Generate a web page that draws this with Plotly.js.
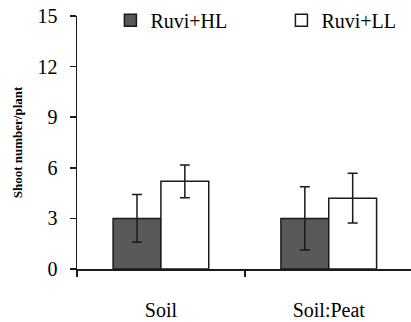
<!DOCTYPE html>
<html>
<head>
<meta charset="utf-8">
<script src="https://cdn.plot.ly/plotly-3.0.1.min.js"></script>
<style>html,body{margin:0;padding:0;background:#fff;}#chart{width:411px;height:322px;}</style>
</head>
<body>
<div id="chart"></div>
<script>
const categories = ["Soil", "Soil:Peat"];
const seriesNames = ["Ruvi+HL", "Ruvi+LL"];
const hlValues = [3.0, 3.0];
const hlErrors = [1.42, 1.87];
const llValues = [5.2, 4.2];
const llErrors = [0.97, 1.47];
const yTicks = [0, 3, 6, 9, 12, 15];

const font = "Times New Roman, Liberation Serif, serif";
const lineCol = "#1a1a1a";

const traces = [
  {
    type: "bar", name: seriesNames[0], x: categories, y: hlValues, legend: "legend",
    marker: {color: "#595959", line: {color: lineCol, width: 1.5}},
    error_y: {type: "data", array: hlErrors, visible: true, color: lineCol, thickness: 1.5, width: 5}
  },
  {
    type: "bar", name: seriesNames[1], x: categories, y: llValues, legend: "legend2",
    marker: {color: "#ffffff", line: {color: lineCol, width: 1.5}},
    error_y: {type: "data", array: llErrors, visible: true, color: lineCol, thickness: 1.5, width: 5}
  }
];

const legendBase = {
  orientation: "h", xanchor: "left", y: 1.06, yanchor: "top",
  font: {family: font, size: 20, color: "#000"},
  bgcolor: "rgba(0,0,0,0)"
};

const layout = {
  width: 411, height: 322,
  margin: {l: 77, r: 0, t: 16, b: 53},
  paper_bgcolor: "#fff", plot_bgcolor: "#fff",
  font: {family: font, size: 20, color: "#000"},
  barmode: "group", bargap: 0.43, bargroupgap: 0,
  showlegend: true,
  legend: Object.assign({}, legendBase, {x: 0.1}),
  legend2: Object.assign({}, legendBase, {x: 0.612}),
  xaxis: {
    type: "category", range: [-0.5, 1.49], fixedrange: true,
    showline: true, linecolor: lineCol, linewidth: 1.5,
    ticks: "outside", tickson: "boundaries", ticklen: 6, tickwidth: 1.5, tickcolor: lineCol,
    showgrid: false, zeroline: false,
    ticklabelstandoff: 22,
    tickfont: {family: font, size: 20, color: "#000"}
  },
  yaxis: {
    range: [0, 15], tickvals: yTicks, ticktext: yTicks.map(String),
    showline: true, linecolor: lineCol, linewidth: 1.5,
    ticks: "outside", ticklen: 6, tickwidth: 1.5, tickcolor: lineCol,
    showgrid: false, zeroline: false,
    ticklabelstandoff: 8,
    tickfont: {family: font, size: 20, color: "#000"},
    title: {text: "Shoot number/plant", standoff: 12,
            font: {family: font, size: 13, color: "#000", weight: "bold"}}
  }
};

Plotly.newPlot("chart", traces, layout, {staticPlot: true, displayModeBar: false});
</script>
</body>
</html>
